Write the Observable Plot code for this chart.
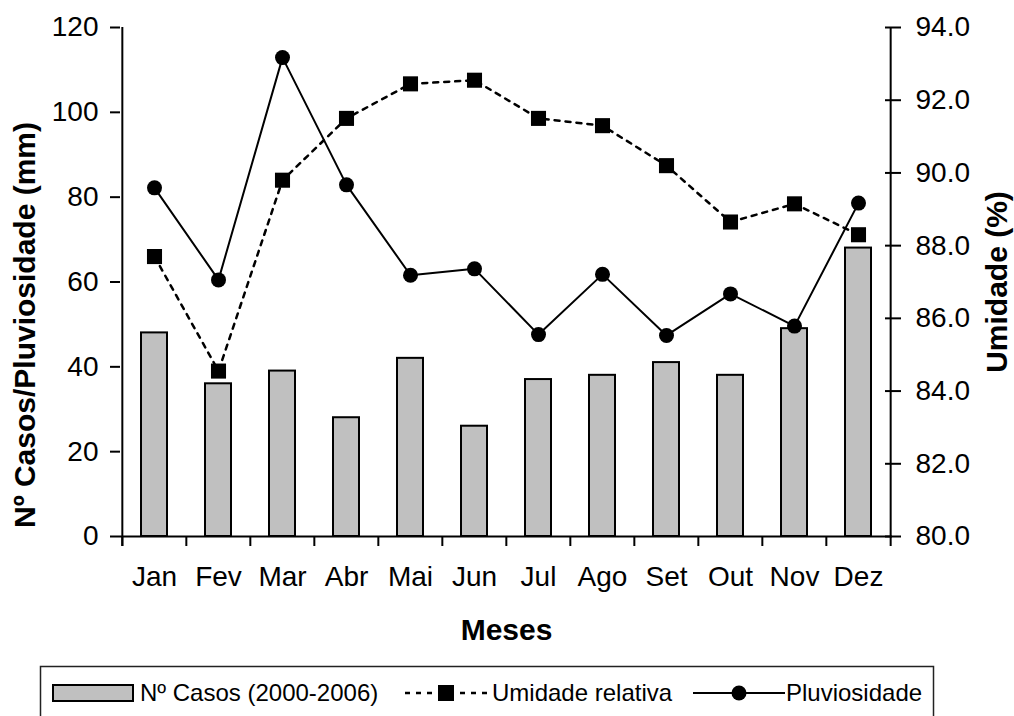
<!DOCTYPE html>
<html><head><meta charset="utf-8">
<script src="https://cdn.jsdelivr.net/npm/d3@7"></script>
<script src="https://cdn.jsdelivr.net/npm/@observablehq/plot@0.6"></script>
<style>
body{margin:0;background:#fff;font-family:"Liberation Sans",Arial,sans-serif;}
#wrap{position:relative;width:1014px;height:716px;overflow:hidden;background:#fff;}
#legend{position:absolute;left:0;top:0;pointer-events:none;}
</style></head><body><div id="wrap"></div>
<script>
const meses = ["Jan","Fev","Mar","Abr","Mai","Jun","Jul","Ago","Set","Out","Nov","Dez"];
const casos = [48,36,39,28,42,26,37,38,41,38,49,68];
const pluviosidade = [82.2,60.5,112.9,82.9,61.6,63.1,47.6,61.8,47.4,57.2,49.6,78.6];
const umidade = [87.7,84.55,89.8,91.5,92.45,92.55,91.5,91.3,90.2,88.65,89.15,88.3];
const yTicks = [0,20,40,60,80,100,120];
const umidTicks = [80,82,84,86,88,90,92,94];
const legendLabels = ["Nº Casos (2000-2006)","Umidade relativa","Pluviosidade"];
const yTitle = "Nº Casos/Pluviosidade (mm)";
const y2Title = "Umidade (%)";
const xTitle = "Meses";

const Y_MAX = 120, H_MIN = 80, H_MAX = 94;
const toLeft = h => (h - H_MIN) * Y_MAX / (H_MAX - H_MIN);
const fromLeft = v => H_MIN + v * (H_MAX - H_MIN) / Y_MAX;

const data = meses.map((m,i)=>({mes:m, casos:casos[i], pluv:pluviosidade[i], umid:toLeft(umidade[i])}));

const W=1014, H=660, mL=120, mR=122, mT=27, mB=124;
const step = (W-mL-mR)/meses.length;
const font = '"Liberation Sans", Arial, sans-serif';
const tickFont = 28;
const titleFont = 30;

const chart = Plot.plot({
  width: W, height: H, marginLeft: mL, marginRight: mR, marginTop: mT, marginBottom: mB,
  style: {fontFamily: font, color: "#000", background: "#fff", overflow: "visible"},
  x: {type: "band", domain: meses, padding: 0},
  y: {domain: [0, Y_MAX]},
  marks: [
    Plot.barY(data, {x: "mes", y: "casos", fill: "#c0c0c0", stroke: "#000", strokeWidth: 2, insetLeft: 19, insetRight: 19}),
    Plot.ruleY([0], {stroke: "#000", strokeWidth: 2}),
    Plot.ruleX(meses, {x: d => d, y1: 0, y2: 0, dx: -step/2, insetBottom: -10, stroke: "#000", strokeWidth: 2}),
    Plot.ruleX([meses[0]], {x: d => d, y1: Y_MAX, y2: 0, dx: -step/2, insetBottom: -10, stroke: "#000", strokeWidth: 2}),
    Plot.ruleX([meses[meses.length-1]], {x: d => d, y1: Y_MAX, y2: 0, dx: step/2, insetBottom: -10, stroke: "#000", strokeWidth: 2}),
    Plot.axisY({ticks: yTicks, tickSize: 10, tickPadding: 12, fontSize: tickFont, label: null, strokeWidth: 2}),
    Plot.axisY({anchor: "right", ticks: umidTicks.map(toLeft), tickFormat: v => fromLeft(v).toFixed(1), tickSize: 8, tickPadding: 15, fontSize: tickFont, label: null, strokeWidth: 2}),
    Plot.axisY({anchor: "right", ticks: umidTicks.map(toLeft), tickFormat: () => "", tickSize: 8, dx: -8, label: null, strokeWidth: 2}),
    Plot.axisX({tickSize: 0, tickPadding: 30, fontSize: tickFont, label: null}),
    Plot.line(data, {x: "mes", y: "umid", stroke: "#000", strokeWidth: 2.5, strokeDasharray: "5,6"}),
    Plot.line(data, {x: "mes", y: "pluv", stroke: "#000", strokeWidth: 2}),
    Plot.dot(data, {x: "mes", y: "umid", symbol: "square", r: 8.5, fill: "#000"}),
    Plot.dot(data, {x: "mes", y: "pluv", symbol: "circle", r: 7.5, fill: "#000"}),
    Plot.text([yTitle], {text: d => d, frameAnchor: "left", rotate: -90, dx: -95, dy: 43, fontSize: titleFont, fontWeight: "bold", textAnchor: "middle", lineAnchor: "middle"}),
    Plot.text([y2Title], {text: d => d, frameAnchor: "right", rotate: -90, dx: 105, fontSize: titleFont, fontWeight: "bold", textAnchor: "middle", lineAnchor: "middle"}),
    Plot.text([xTitle], {text: d => d, frameAnchor: "bottom", dy: 94, fontSize: titleFont, fontWeight: "bold", textAnchor: "middle", lineAnchor: "middle"})
  ]
});
const wrap = document.getElementById("wrap");
wrap.appendChild(chart);

// Legend
const lg = d3.select(wrap).append("svg").attr("id","legend").attr("width", W).attr("height", 716)
  .style("font-family", font);
lg.append("rect").attr("x", 40.5).attr("y", 666.5).attr("width", 893).attr("height", 80)
  .attr("fill", "none").attr("stroke", "#222").attr("stroke-width", 1.5);
const ly = 693;
lg.append("rect").attr("x", 53).attr("y", 685).attr("width", 80).attr("height", 16)
  .attr("fill", "#c0c0c0").attr("stroke", "#000").attr("stroke-width", 2);
lg.append("text").attr("x", 140).attr("y", ly).attr("dy", "0.35em").attr("font-size", 24).text(legendLabels[0]);
lg.append("line").attr("x1", 405).attr("x2", 487).attr("y1", ly).attr("y2", ly)
  .attr("stroke", "#000").attr("stroke-width", 2.5).attr("stroke-dasharray", "5,6");
lg.append("rect").attr("x", 446-8).attr("y", ly-8).attr("width", 16).attr("height", 16).attr("fill", "#000");
lg.append("text").attr("x", 492).attr("y", ly).attr("dy", "0.35em").attr("font-size", 24).text(legendLabels[1]);
lg.append("line").attr("x1", 693).attr("x2", 785).attr("y1", ly).attr("y2", ly)
  .attr("stroke", "#000").attr("stroke-width", 2);
lg.append("circle").attr("cx", 739).attr("cy", ly).attr("r", 7.5).attr("fill", "#000");
lg.append("text").attr("x", 786).attr("y", ly).attr("dy", "0.35em").attr("font-size", 24).text(legendLabels[2]);
</script>
</body></html>
